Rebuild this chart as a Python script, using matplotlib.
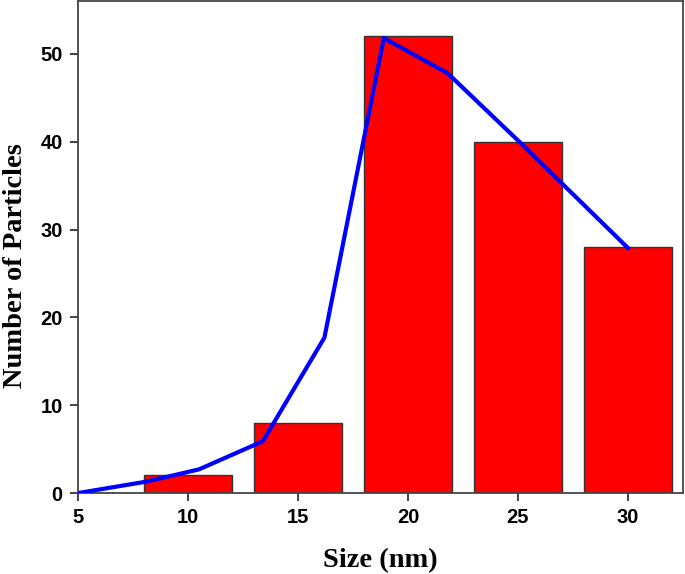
import numpy as np
import matplotlib
matplotlib.use("Agg")
import matplotlib.pyplot as plt

# histogram bars
bin_centers = [10, 15, 20, 25, 30]
counts = [2, 8, 52, 40, 28]
bar_width = 4

# fitted curve (blue line)
fit_x = [5.0, 8.1, 10.5, 13.4, 16.2, 18.9, 21.8, 25.1, 30.0]
fit_y = [0.0, 1.3, 2.7, 5.9, 17.7, 51.8, 47.8, 39.9, 27.9]

fig = plt.figure(figsize=(6.85, 5.74), dpi=100)
ax = fig.add_axes([0.114, 0.141, 0.883, 0.857])

ax.bar(bin_centers, counts, width=bar_width, color="#ff0000",
       edgecolor="#333333", linewidth=1.0, zorder=2)
ax.plot(fit_x, fit_y, color="#0000ff", lw=3.0, zorder=3)

ax.set_xlim(5, 32.5)
ax.set_ylim(0, 56)
ax.set_xticks([5, 10, 15, 20, 25, 30])
ax.set_yticks([0, 10, 20, 30, 40, 50])

tick_font = {"family": "Liberation Sans", "weight": "bold", "size": 14.5}
ax.set_xticklabels([str(v) for v in ax.get_xticks().astype(int)], fontdict=tick_font)
ax.set_yticklabels([str(v) for v in ax.get_yticks().astype(int)], fontdict=tick_font)
ax.tick_params(direction="out", length=6, width=1.2, color="#222222",
               labelcolor="black", pad=5)
ax.tick_params(top=False, right=False)

label_font = {"family": "Liberation Serif", "weight": "bold", "size": 20.5}
ax.set_xlabel("Size (nm)", fontdict=label_font, labelpad=15)
ax.set_ylabel("Number of Particles", fontdict=label_font, labelpad=9, y=0.463)

for s in ax.spines.values():
    s.set_color("#444444")
    s.set_linewidth(1.3)

fig.savefig("out.png", dpi=100)
